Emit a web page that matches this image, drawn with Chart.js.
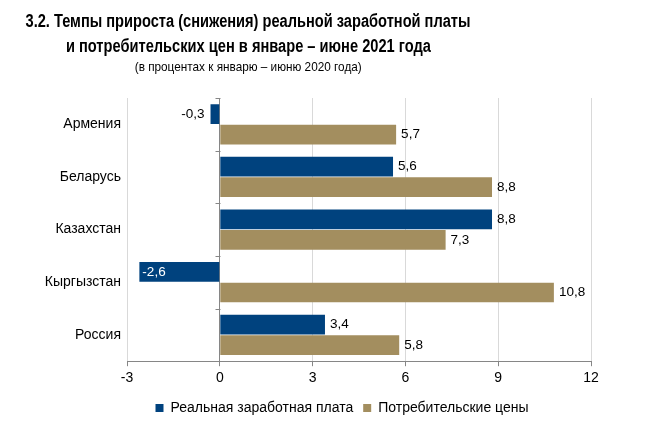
<!DOCTYPE html>
<html><head><meta charset="utf-8">
<script src="https://cdn.jsdelivr.net/npm/chart.js@4/dist/chart.umd.min.js"></script>
<style>
html,body{margin:0;padding:0;background:#fff;overflow:hidden;}
#wrap{position:relative;width:650px;height:427px;overflow:hidden;}
#t{position:absolute;left:-252px;top:9px;width:1000px;text-align:center;font-family:"Liberation Sans",Arial,sans-serif;color:#000;}
#t .h{font-weight:bold;font-size:18px;line-height:25px;white-space:nowrap;}
#t .s{font-size:13.5px;line-height:16px;white-space:nowrap;}
#t span{display:inline-block;transform-origin:50% 50%;}
canvas{position:absolute;left:0;top:0;}
</style></head><body>
<div id="wrap">
<canvas id="c" width="650" height="427"></canvas>
<div id="t"><div class="h"><span data-w="445">3.2. Темпы прироста (снижения) реальной заработной платы</span></div><div class="h"><span data-w="365">и потребительских цен в январе – июне 2021 года</span></div><div class="s"><span data-w="227">(в процентах к январю – июню 2020 года)</span></div></div>
</div>
<script>
const categories = ["Армения","Беларусь","Казахстан","Кыргызстан","Россия"];
const seriesNames = ["Реальная заработная плата","Потребительские цены"];
const realWages = [-0.3, 5.6, 8.8, -2.6, 3.4];
const consumerPrices = [5.7, 8.8, 7.3, 10.8, 5.8];
const xTicks = [-3, 0, 3, 6, 9, 12];

document.querySelectorAll("#t span").forEach(s => {
  const w = s.getBoundingClientRect().width;
  s.style.transform = "scaleX(" + (parseFloat(s.dataset.w) / w) + ")";
});

const BLUE = "#00427E", GOLD = "#A38E5F";
const FONT = "'Liberation Sans', Arial, sans-serif";

const labelPlugin = {
  id: "labels",
  afterLayout(chart) {
    if (chart.legend) { chart.legend.left = 93; chart.legend.right = chart.chartArea.right; }
  },
  afterDatasetsDraw(chart) {
    const ctx = chart.ctx;
    ctx.save();
    ctx.font = "13.5px " + FONT;
    ctx.textBaseline = "middle";
    chart.data.datasets.forEach((ds, di) => {
      const meta = chart.getDatasetMeta(di);
      meta.data.forEach((bar, i) => {
        const v = ds.data[i];
        const txt = v.toFixed(1).replace(".", ",");
        const w = Math.abs(bar.x - bar.base);
        ctx.fillStyle = "#000";
        if (v >= 0) { ctx.textAlign = "left"; ctx.fillText(txt, bar.x + 5, bar.y); }
        else {
          const tw = ctx.measureText(txt).width;
          if (w > tw + 8) { ctx.fillStyle = "#fff"; ctx.textAlign = "left"; ctx.fillText(txt, bar.x + 3, bar.y); }
          else { ctx.textAlign = "right"; ctx.fillText(txt, bar.x - 6, bar.y); }
        }
      });
    });
    const xs = chart.scales.x, ys = chart.scales.y;
    const x0 = Math.round(xs.getPixelForValue(0)) + 0.5;
    ctx.strokeStyle = "#868686"; ctx.lineWidth = 1;
    for (let i = 0; i <= categories.length; i++) {
      const y = Math.round(ys.top + (ys.bottom - ys.top) * i / categories.length) + 0.5;
      ctx.beginPath(); ctx.moveTo(x0 - 5, y); ctx.lineTo(x0, y); ctx.stroke();
    }
    ctx.restore();
  }
};

new Chart(document.getElementById("c"), {
  type: "bar",
  data: {
    labels: categories,
    datasets: [
      { label: seriesNames[0], data: realWages, backgroundColor: BLUE, barPercentage: 0.96, categoryPercentage: 0.78 },
      { label: seriesNames[1], data: consumerPrices, backgroundColor: GOLD, barPercentage: 0.96, categoryPercentage: 0.78 }
    ]
  },
  options: {
    indexAxis: "y",
    responsive: false,
    animation: false,
    layout: { padding: { top: 98, right: 59, left: 0, bottom: 2 } },
    scales: {
      x: {
        min: -3, max: 12,
        afterBuildTicks: s => { s.ticks = xTicks.map(v => ({ value: v })); },
        ticks: { color: "#000", font: { family: FONT, size: 14 }, padding: 4,
          callback: v => String(v) },
        grid: { color: ctx => ctx.tick && ctx.tick.value === 0 ? "#868686" : "#d9d9d9",
          tickColor: "#868686", tickLength: 5 },
        border: { color: "#868686" }
      },
      y: {
        afterFit: s => { s.width = 127; },
        ticks: { color: "#000", font: { family: FONT, size: 14 }, padding: 6 },
        grid: { display: false, drawTicks: false },
        border: { display: false }
      }
    },
    plugins: {
      legend: { position: "bottom",
        labels: { color: "#000", font: { family: FONT, size: 14 }, boxWidth: 8, boxHeight: 8, padding: 10 } },
      tooltip: { enabled: false }
    }
  },
  plugins: [labelPlugin]
});
</script>
</body></html>
